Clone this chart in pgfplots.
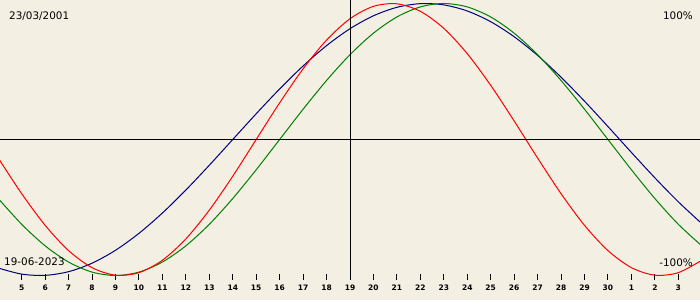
\documentclass[border=0pt]{standalone}
\usepackage{fontspec}
\setmainfont{DejaVu Sans}
\usepackage{pgfplots}
\pgfplotsset{compat=1.18}
\definecolor{bgc}{HTML}{F3EFE3}
\definecolor{cred}{HTML}{FF0000}
\definecolor{cgreen}{HTML}{008000}
\definecolor{cblue}{HTML}{000080}
\begin{document}
\begin{tikzpicture}
\begin{axis}[
  scale only axis, width=700pt, height=300pt,
  xmin=-14.925, xmax=14.925, ymin=-1.1801, ymax=1.0257,
  axis background/.style={fill=bgc},
  axis line style={draw=none},
  ytick=\empty,
  xtick={-14,-13,-12,-11,-10,-9,-8,-7,-6,-5,-4,-3,-2,-1,0,1,2,3,4,5,6,7,8,9,10,11,12,13,14},
  xticklabels={5,6,7,8,9,10,11,12,13,14,15,16,17,18,19,20,21,22,23,24,25,26,27,28,29,30,1,2,3},
  xtick pos=bottom,
  tick align=inside, major tick length=6pt,
  every major tick/.append style={black, line width=1pt, yshift=20pt},
  xticklabel style={anchor=center, yshift=12pt, font=\bfseries\fontsize{7.5}{8}\selectfont},
  clip=true,
]
\addplot[cblue, line width=1pt, smooth] coordinates {
(-15,-0.9450) (-14,-0.9898) (-13,-0.9989) (-12,-0.9718) (-11,-0.9096) (-10,-0.8146)
(-9,-0.6901) (-8,-0.5406) (-7,-0.3717) (-6,-0.1893) (-5,0) (-4,0.1893) (-3,0.3717)
(-2,0.5406) (-1,0.6901) (0,0.8146) (1,0.9096) (2,0.9718) (3,0.9989) (4,0.9898)
(5,0.9450) (6,0.8660) (7,0.7557) (8,0.6182) (9,0.4582) (10,0.2817) (11,0.0951)
(12,-0.0951) (13,-0.2817) (14,-0.4582) (15,-0.6182)};
\addplot[cgreen, line width=1pt, smooth] coordinates {
(-15,-0.4339) (-14,-0.6235) (-13,-0.7818) (-12,-0.9010) (-11,-0.9749) (-10,-1)
(-9,-0.9749) (-8,-0.9010) (-7,-0.7818) (-6,-0.6235) (-5,-0.4339) (-4,-0.2225) (-3,0)
(-2,0.2225) (-1,0.4339) (0,0.6235) (1,0.7818) (2,0.9010) (3,0.9749) (4,1)
(5,0.9749) (6,0.9010) (7,0.7818) (8,0.6235) (9,0.4339) (10,0.2225) (11,0)
(12,-0.2225) (13,-0.4339) (14,-0.6235) (15,-0.7818)};
\addplot[cred, line width=1pt, smooth] coordinates {
(-15,-0.1362) (-14,-0.3984) (-13,-0.6311) (-12,-0.8170) (-11,-0.9423) (-10,-0.9977)
(-9,-0.9791) (-8,-0.8879) (-7,-0.7308) (-6,-0.5196) (-5,-0.2698) (-4,0) (-3,0.2698)
(-2,0.5196) (-1,0.7308) (0,0.8879) (1,0.9791) (2,0.9977) (3,0.9423) (4,0.8170)
(5,0.6311) (6,0.3984) (7,0.1362) (8,-0.1362) (9,-0.3984) (10,-0.6311) (11,-0.8170)
(12,-0.9423) (13,-0.9977) (14,-0.9791) (15,-0.8879)};
\draw[black, line width=1pt] (axis cs:-14.925,0) -- (axis cs:14.925,0);
\draw[black, line width=1pt] (axis cs:0,1.0257) -- (axis cs:0,-1.033);
\node[anchor=west, font=\fontsize{10.4}{11}\selectfont, inner sep=0pt] at (rel axis cs:0.0129,0.947) {23/03/2001};
\node[anchor=east, font=\fontsize{10.4}{11}\selectfont, inner sep=0pt] at (rel axis cs:0.99,0.947) {100\%};
\node[anchor=west, font=\fontsize{10.4}{11}\selectfont, inner sep=0pt] at (rel axis cs:0.0057,0.127) {19-06-2023};
\node[anchor=east, font=\fontsize{10.4}{11}\selectfont, inner sep=0pt] at (rel axis cs:0.99,0.123) {-100\%};
\end{axis}
\end{tikzpicture}
\end{document}
